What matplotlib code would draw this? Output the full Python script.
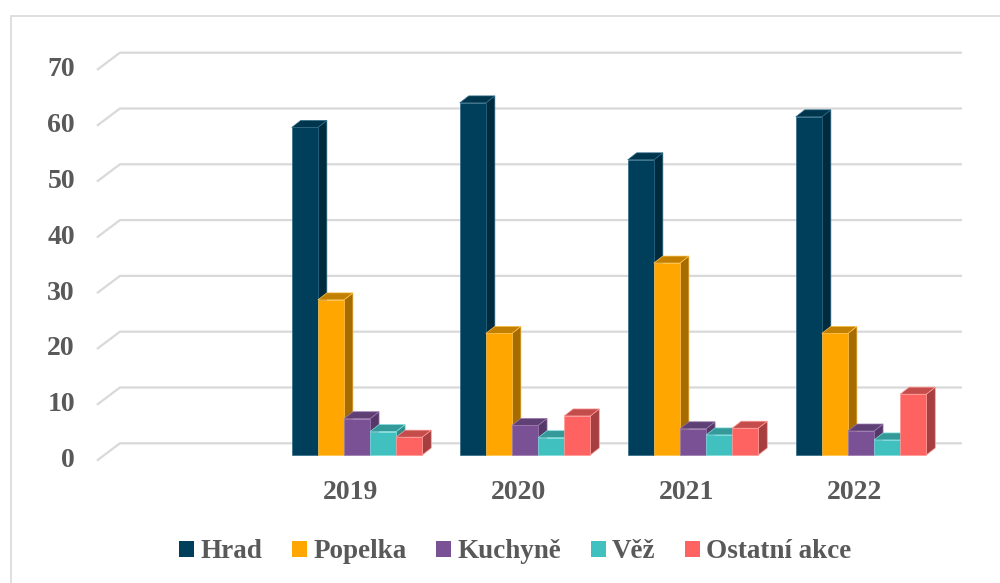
import matplotlib
matplotlib.use('Agg')
import matplotlib.pyplot as plt
from matplotlib.patches import Polygon, Patch, Rectangle

plt.rcParams['font.family'] = ['Liberation Serif', 'DejaVu Serif']
plt.rcParams['font.weight'] = 'bold'

# data
categories = ['', '2019', '2020', '2021', '2022']
series = ['Hrad', 'Popelka', 'Kuchyně', 'Věž', 'Ostatní akce']
values = {
    'Hrad':         [None, 58.7, 63.1, 52.9, 60.6],
    'Popelka':      [None, 27.8, 21.8, 34.4, 21.8],
    'Kuchyně':      [None, 6.5, 5.3, 4.7, 4.3],
    'Věž':          [None, 4.2, 3.1, 3.6, 2.7],
    'Ostatní akce': [None, 3.2, 7.0, 4.8, 10.9],
}
yticks = [0, 10, 20, 30, 40, 50, 60, 70]

front = ['#003f5c', '#ffa600', '#7a5195', '#40c1c0', '#ff6361']
side = ['#002b3f', '#a66c00', '#553868', '#2e8b8a', '#a63f3f']
top = ['#00354e', '#c27f00', '#5f4074', '#339a99', '#c44c4a']
edges = ['#2f6a86', '#ffc24d', '#9a78b0', '#7fdcdc', '#ff9a98']
text_col = '#595959'
grid_col = '#d9d9d9'

# layout, pixel based
W, H = 1000, 583
px_x = 168.0          # pixels per category slot
px_y = 5.58           # pixels per value unit
x0_px = 189.0         # centre of slot 0
y0_px = 455.0         # value 0 (from top)
ax_l, ax_r, ax_t, ax_b = 60, 990, 30, 480

fig = plt.figure(figsize=(W / 100, H / 100), dpi=100)
ax = fig.add_axes([ax_l / W, 1 - ax_b / H, (ax_r - ax_l) / W, (ax_b - ax_t) / H])
ax.set_xlim((ax_l - x0_px) / px_x, (ax_r - x0_px) / px_x)
ax.set_ylim(-(ax_b - y0_px) / px_y, (y0_px - ax_t) / px_y)
ax.axis('off')

fig.patches.append(Rectangle((11 / W, -0.05), 1.1, (H - 16) / H + 0.05,
                             transform=fig.transFigure, fill=False,
                             edgecolor=grid_col, lw=1.2))

# back wall gridlines
for v in yticks:
    ax.plot([-0.548, -0.411, 4.601], [v - 1.0, v + 2.1, v + 2.1],
            color=grid_col, lw=1.6, zorder=1, solid_capstyle='butt')
    ax.text((75 - x0_px) / px_x, v - 1.0, str(v), ha='right', va='center',
            fontsize=20, color=text_col, fontweight='bold')

# 3d-ish columns
bw = 26.1 / px_x
dx = 9 / px_x
dy = 7 / px_y
z = 2
for i, cat in enumerate(categories):
    if cat == '':
        continue
    left = i - 2.5 * bw
    for j, s in enumerate(series):
        h = values[s][i]
        x = left + j * bw
        ax.add_patch(Polygon([(x + bw, 0), (x + bw + dx, dy), (x + bw + dx, h + dy), (x + bw, h)],
                             closed=True, facecolor=side[j], edgecolor=edges[j], lw=0.5, zorder=z))
        ax.add_patch(Polygon([(x, h), (x + dx, h + dy), (x + bw + dx, h + dy), (x + bw, h)],
                             closed=True, facecolor=top[j], edgecolor=edges[j], lw=0.5, zorder=z))
        ax.bar(x, h, width=bw, align='edge', color=front[j], edgecolor=edges[j],
               lw=0.5, zorder=z + 1)
        z += 2
    ax.text(i - 0.04, -6.8, cat, ha='center', va='center', fontsize=20,
            color=text_col, fontweight='bold')

handles = [Patch(facecolor=front[j], edgecolor='none', label=s) for j, s in enumerate(series)]
leg = fig.legend(handles=handles, loc='center', bbox_to_anchor=(0.5155, (H - 552) / H),
                 ncol=5, frameon=False, fontsize=19.5, handlelength=0.56, handleheight=0.56,
                 handletextpad=0.22, columnspacing=1.1, borderaxespad=0)
for t in leg.get_texts():
    t.set_color(text_col)

fig.savefig('out.png', dpi=100)
plt.close(fig)
